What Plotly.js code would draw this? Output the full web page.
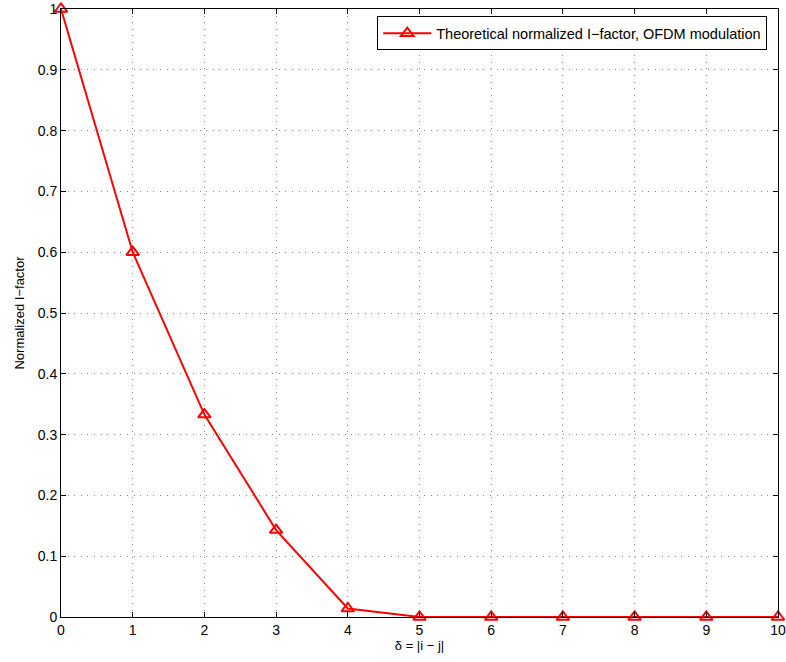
<!DOCTYPE html>
<html>
<head>
<meta charset="utf-8">
<script src="https://cdn.plot.ly/plotly-3.0.1.min.js"></script>
<style>html,body{margin:0;padding:0;background:#fff;}#chart{width:786px;height:662px;}</style>
</head>
<body>
<div id="chart"></div>
<script>
const delta = [0, 1, 2, 3, 4, 5, 6, 7, 8, 9, 10];
const normIFactor = [1.0, 0.6, 0.333, 0.143, 0.014, 0, 0, 0, 0, 0, 0];
const seriesName = 'Theoretical normalized I\u2212factor, OFDM modulation';
const xTicks = [0, 1, 2, 3, 4, 5, 6, 7, 8, 9, 10];
const yTicks = [0, 0.1, 0.2, 0.3, 0.4, 0.5, 0.6, 0.7, 0.8, 0.9, 1];
const yTickText = ['0', '0.1', '0.2', '0.3', '0.4', '0.5', '0.6', '0.7', '0.8', '0.9', '1'];

const fam = 'Liberation Sans, Arial, Helvetica, sans-serif';
const font = {family: fam, size: 13, color: '#000'};
const tickFont = {family: fam, size: 14, color: '#000'};
const legendFont = {family: fam, size: 14.5, color: '#000'};

const trace = {
  x: delta, y: normIFactor, name: seriesName,
  type: 'scatter', mode: 'lines+markers', cliponaxis: false,
  line: {color: '#ff0000', width: 2},
  marker: {symbol: 'triangle-up-open', size: 11, color: '#ff0000', line: {color: '#ff0000', width: 2}}
};

const axisCommon = {
  showline: true, linecolor: '#000', linewidth: 1, mirror: 'ticks',
  ticks: 'inside', ticklen: 5, tickcolor: '#000', tickwidth: 1,
  showgrid: true, gridcolor: '#888888', griddash: '1px,5.6px', gridwidth: 1,
  zeroline: false, tickfont: tickFont
};

const layout = {
  width: 786, height: 662,
  margin: {l: 61, r: 8, t: 9, b: 45},
  paper_bgcolor: '#fff', plot_bgcolor: '#fff',
  font: font,
  showlegend: true,
  legend: {x: 0.985, xanchor: 'right', y: 0.988, yanchor: 'top', itemwidth: 48,
    bgcolor: '#fff', bordercolor: '#000', borderwidth: 1, font: legendFont},
  xaxis: Object.assign({}, axisCommon, {
    range: [0, 10], tickvals: xTicks, ticktext: xTicks.map(String),
    title: {text: '\u03b4 = |i \u2212 j|', font: font, standoff: 2}
  }),
  yaxis: Object.assign({}, axisCommon, {
    range: [0, 1], tickvals: yTicks, ticktext: yTickText,
    title: {text: 'Normalized I\u2212factor', font: font, standoff: 10}
  })
};

Plotly.newPlot('chart', [trace], layout, {displayModeBar: false, staticPlot: true});
</script>
</body>
</html>
